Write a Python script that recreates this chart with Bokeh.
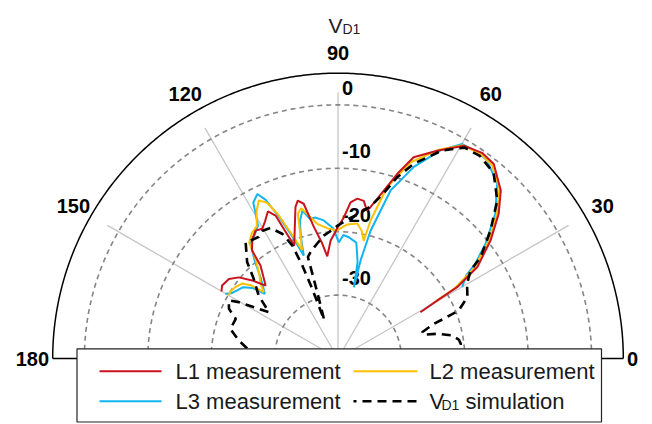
import numpy as np
from bokeh.plotting import figure
from bokeh.models import Range1d
from bokeh.core.properties import value
from bokeh.embed import file_html
from bokeh.resources import INLINE

# ---------------- data (angle in degrees, level in dB) ----------------
l1_angle = [29.3, 30.3, 30.9, 33.3, 37.7, 42.0, 45.9, 51.3, 55.0, 59.4, 64.5, 69.4, 72.2, 74.7, 77.9,
            79.0, 80.7, 83.1, 85.4, 87.6, 90.4, 93.6, 96.0, 97.8, 100.4, 102.5, 104.3, 105.7, 108.5, 111.2,
            112.6, 113.6, 115.5, 118.0, 120.3, 122.8, 125.6, 128.5, 129.8, 134.8, 137.7, 140.7, 143.9, 147.8, 150.1]
l1_db = [-25.1, -21.9, -18.1, -13.7, -9.6, -5.9, -3.1, -0.7, -0.4, -1.0, -3.7, -6.1, -9.4, -12.5, -15.6,
         -16.2, -14.8, -14.6, -15.3, -17.7, -19.5, -21.4, -23.8, -21.7, -18.9, -15.0, -14.3, -15.2, -18.5, -20.9,
         -18.1, -15.4, -14.3, -15.5, -16.3, -16.0, -16.8, -18.2, -20.9, -23.8, -21.7, -19.8, -18.7, -18.4, -18.8]

l2_angle = [30.3, 31.0, 33.5, 37.8, 42.3, 46.5, 51.5, 55.0, 59.6, 64.0, 69.7, 74.0, 76.7, 77.7, 79.5,
            81.9, 86.0, 90.4, 94.0, 98.8, 101.5, 103.8, 105.5, 108.3, 110.5, 112.5, 114.5, 116.6, 119.0, 121.5,
            124.5, 127.5, 129.5, 133.0, 136.0, 138.2, 140.0, 142.0, 145.0, 148.0, 150.0]
l2_db = [-22.0, -18.5, -14.3, -10.0, -6.1, -3.0, -1.0, -0.7, -1.0, -3.3, -7.0, -11.9, -17.6, -21.0, -19.5,
         -18.5, -18.8, -19.8, -19.5, -18.5, -17.0, -15.6, -16.3, -22.0, -19.0, -15.5, -13.0, -12.1, -13.5, -15.5,
         -16.0, -17.0, -19.5, -21.8, -23.0, -24.3, -22.0, -20.8, -20.3, -20.0, -20.1]

l3_angle = [29.9, 33.0, 34.5, 37.9, 42.6, 47.7, 53.0, 56.0, 59.9, 63.8, 68.4, 72.6, 75.7, 77.0, 77.5,
            78.5, 81.0, 84.9, 87.5, 89.6, 92.0, 95.9, 99.0, 101.5, 103.5, 105.5, 107.0, 108.4, 110.5, 112.5,
            114.5, 116.1, 118.5, 121.0, 124.0, 127.3, 130.5, 134.0, 138.5, 140.5, 143.0, 146.0, 148.5, 150.1]
l3_db = [-17.4, -15.9, -13.8, -10.5, -6.3, -2.7, -0.9, -0.7, -0.9, -3.4, -7.5, -12.2, -19.2, -24.0, -28.5,
         -24.5, -21.5, -20.8, -20.5, -21.7, -19.5, -18.1, -17.5, -17.5, -16.0, -17.5, -20.0, -22.9, -19.5, -16.0,
         -12.5, -11.1, -12.0, -15.5, -16.5, -17.2, -19.8, -22.5, -24.6, -22.5, -21.3, -20.8, -20.3, -19.5]

sim_angle = [0, 3, 6.8, 8.8, 11.4, 14.0, 15.6, 17.3, 19.9, 20.6, 21.7, 25.4, 30.0, 33.6, 35.4,
             40.0, 44.8, 50.0, 55.0, 59.0, 63.4, 68.7, 71.9, 74.7, 78.0, 82.0, 86.0, 90.0, 94.0, 96.6,
             100.0, 104.0, 106.5, 107.4, 108.3, 109.7, 110.3, 111.0, 112.0, 114.0, 117.4, 120.5, 123.1, 126.0, 128.5,
             133.3, 136.6, 141.5, 146.2, 150.4, 152.0, 155.5, 158.8, 164.6, 169.7, 175.0, 180.0]
sim_db = [-21.5, -20.8, -20.5, -20.7, -21.6, -23.9, -26.0, -26.1, -23.9, -22.2, -19.5, -17.4, -16.5, -14.9, -12.4,
          -8.6, -4.6, -1.8, -1.0, -1.2, -3.3, -7.0, -9.9, -13.1, -15.5, -17.0, -18.0, -19.0, -20.0, -20.5,
          -21.5, -22.5, -23.3, -29.0, -31.5, -33.5, -28.3, -24.3, -20.8, -18.5, -16.8, -16.6, -17.1, -16.9, -16.6,
          -19.1, -21.7, -24.0, -26.9, -22.0, -20.5, -21.1, -22.7, -22.4, -24.1, -26.0, -28.0]

r_limits = [-40, 5]
ring_ticks = [-30, -20, -10, 0]
ring_labels = ["-30", "-20", "-10", "0"]
angle_ticks = [0, 30, 60, 90, 120, 150, 180]
angle_labels = ["0", "30", "60", "90", "120", "150", "180"]
spoke_ticks = [30, 60, 90, 120, 150]
series_names = ["L1 measurement", "L2 measurement", "L3 measurement", "simulation"]

# ---------------- layout ----------------
W, H = 652, 424
K = 6.34                     # px per dB
CX, CY = 337.5, 358.0        # pole position inside the canvas (px from top-left)
R0 = r_limits[0]
RMAX = r_limits[1] - R0

FONT = value("Liberation Sans")

p = figure(width=W, height=H, output_backend="svg", toolbar_location=None,
           x_range=Range1d(-CX / K, (W - CX) / K), y_range=Range1d(-(H - CY) / K, CY / K),
           x_axis_location=None, y_axis_location=None, min_border=0,
           outline_line_color=None, background_fill_color="white", border_fill_color="white")
p.grid.visible = False


def polar(angle, db):
    a = np.radians(np.asarray(angle, dtype=float))
    r = np.asarray(db, dtype=float) - R0
    return r * np.cos(a), r * np.sin(a)


def page(xp, yp):
    """canvas pixel -> data coordinates (for annotation placement only)"""
    return (xp - CX) / K, (CY - yp) / K


half = np.linspace(0, 180, 361)

# spokes
spoke_len = 42.0
sx, sy = polar(spoke_ticks, [R0 + spoke_len] * len(spoke_ticks))
p.segment(x0=[0] * len(spoke_ticks), y0=[0] * len(spoke_ticks), x1=sx, y1=sy,
          line_color="#c6c6c6", line_width=1.3)

# dashed rings
for t in ring_ticks:
    x, y = polar(half, [t] * len(half))
    p.line(x, y, line_color="#858585", line_width=1.6, line_dash="5 4")

# outer boundary
x, y = polar(half, [r_limits[1]] * len(half))
p.line(x, y, line_color="black", line_width=1.5)
p.segment(x0=[-RMAX], y0=[0], x1=[RMAX], y1=[0], line_color="black", line_width=1.3)

# radial tick labels (drawn under the data)
lab_r = np.array(ring_ticks, dtype=float) - R0 + 2.7
p.text(x=[0.63] * len(ring_ticks), y=lab_r, text=ring_labels, text_font=FONT,
       text_font_size="20px", text_font_style="bold", text_color="black",
       text_align="left", text_baseline="middle")

# data
colors = ["#c8141e", "#ffc000", "#12b4ef"]
for ang, db, c in [(l3_angle, l3_db, colors[2]), (l2_angle, l2_db, colors[1]), (l1_angle, l1_db, colors[0])]:
    x, y = polar(ang, db)
    p.line(x, y, line_color=c, line_width=2.0)
x, y = polar(sim_angle, sim_db)
p.line(x, y, line_color="black", line_width=2.6, line_dash="9 6")

# angle labels
lab_ang = [a for a in angle_ticks if a != 0]
lab_txt = [angle_labels[angle_ticks.index(a)] for a in lab_ang]
ax, ay = polar(lab_ang, [R0 + 48.2] * len(lab_ang))
p.text(x=ax, y=ay, text=lab_txt, text_font=FONT, text_font_size="20px", text_font_style="bold",
       text_color="black", text_align="center", text_baseline="middle")
zx, zy = polar([0], [R0 + 45.6])
p.text(x=zx, y=zy, text=["0"], text_font=FONT, text_font_size="20px", text_font_style="bold",
       text_color="black", text_align="left", text_baseline="middle")

# title  V_D1
tx, ty = page(328, 25)
p.text(x=[tx], y=[ty], text=["V"], text_font=FONT, text_font_size="21px", text_color="#222222",
       text_align="left", text_baseline="alphabetic")
tx, ty = page(342, 28)
p.text(x=[tx], y=[ty], text=["D1"], text_font=FONT, text_font_size="14px", text_color="#222222",
       text_align="left", text_baseline="alphabetic")

# legend box
bl, bt = page(76.5, 348.3)
br, bb = page(601, 421.5)
p.quad(left=[bl], right=[br], top=[bt], bottom=[bb], fill_color="white", line_color="#222222", line_width=1.2)

rows = [370.7, 400.7]
cols = [(99, 161, 175), (353, 417, 429)]
entries = [(0, 0, colors[0], None, series_names[0]),
           (1, 0, colors[1], None, series_names[1]),
           (0, 1, colors[2], None, series_names[2]),
           (1, 1, "black", "9 6", None)]
for ci, ri, c, dash, label in entries:
    x0, y0 = page(cols[ci][0], rows[ri])
    x1, _ = page(cols[ci][1], rows[ri])
    if dash:
        p.segment(x0=[x0], y0=[y0], x1=[x1], y1=[y0], line_color=c, line_width=2.6, line_dash=dash,
                  line_dash_offset=6)
    else:
        p.segment(x0=[x0], y0=[y0], x1=[x1], y1=[y0], line_color=c, line_width=2.0)
    if label:
        lx, ly = page(cols[ci][2], rows[ri])
        p.text(x=[lx], y=[ly], text=[label], text_font=FONT, text_font_size="22px", text_color="#1a1a1a",
               text_align="left", text_baseline="middle")

vx, vy = page(429, rows[1])
p.text(x=[vx], y=[vy], text=["V"], text_font=FONT, text_font_size="22px", text_color="#1a1a1a",
       text_align="left", text_baseline="middle")
dx, dy = page(441, rows[1] + 4)
p.text(x=[dx], y=[dy], text=["D1"], text_font=FONT, text_font_size="14px", text_color="#1a1a1a",
       text_align="left", text_baseline="middle")
sx2, sy2 = page(465, rows[1])
p.text(x=[sx2], y=[sy2], text=[series_names[3]], text_font=FONT, text_font_size="22px", text_color="#1a1a1a",
       text_align="left", text_baseline="middle")

open("out.html", "w").write(file_html(p, INLINE))
